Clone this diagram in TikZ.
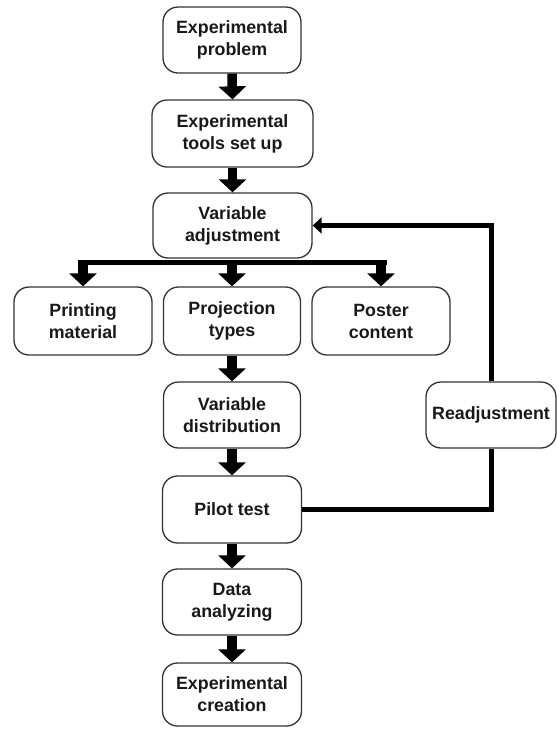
\documentclass[tikz,border=0pt]{standalone}
\usepackage{fontspec}
\setmainfont{Liberation Sans}
\usetikzlibrary{arrows.meta}
\begin{document}
\begin{tikzpicture}[x=1pt,y=-1pt,
  box/.style={draw=black!80, line width=1.3pt, rounded corners=15pt, fill=white,
    align=center, inner sep=0pt, text=black!90,
    font=\bfseries\fontsize{17.8}{22}\selectfont},
  bigarrow/.style={line width=9.5pt, draw=black, -{Triangle[width=27pt,length=13pt]}},
  fbline/.style={line width=5pt, draw=black, line join=miter},
  fbarrow/.style={fbline, -{Triangle[width=16pt,length=9pt]}}]
\useasboundingbox (0,0) rectangle (557,729);
\node[box, minimum width=138pt, minimum height=66pt] (b1) at (232,40) {Experimental\\problem};
\node[box, minimum width=161pt, minimum height=67pt] (b2) at (232.5,133.5) {Experimental\\tools set up};
\node[box, minimum width=159pt, minimum height=65pt] (b3) at (232.5,225.5) {Variable\\adjustment};
\node[box, minimum width=138pt, minimum height=68pt] (p1) at (83,321) {Printing\\material};
\node[box, minimum width=137pt, minimum height=68pt] (p2) at (232,321) {Projection\\types};
\node[box, minimum width=138pt, minimum height=68pt] (p3) at (381,321) {Poster\\content};
\node[box, minimum width=137pt, minimum height=66pt] (vd) at (232,415) {Variable\\distribution};
\node[box, minimum width=130pt, minimum height=66pt] (rd) at (491,415) {Readjustment};
\node[box, minimum width=139pt, minimum height=67pt] (pt) at (232,509.5) {Pilot test};
\node[box, minimum width=139pt, minimum height=66pt] (da) at (232,602) {Data\\analyzing};
\node[box, minimum width=139pt, minimum height=63pt] (ec) at (232,694.5) {Experimental\\creation};
% main arrows
\draw[bigarrow] (b1.south) -- (b2.north);
\draw[bigarrow] (b2.south) -- (b3.north);
\draw[bigarrow] (p2.south) -- (vd.north);
\draw[bigarrow] (vd.south) -- (pt.north);
\draw[bigarrow] (pt.south) -- (da.north);
\draw[bigarrow] (da.south) -- (ec.north);
% split bar
\coordinate (barL) at (78,262.5);
\coordinate (barR) at (387,262.5);
\draw[line width=5.5pt] (barL) -- (barR);
\draw[bigarrow] (p1.north |- barL) -- (p1.north);
\draw[bigarrow] (p2.north |- barL) -- (p2.north);
\draw[bigarrow] (p3.north |- barL) -- (p3.north);
% feedback loop
\draw[fbline] (pt.east) -| (rd.south);
\draw[fbarrow] (rd.north) |- (b3.east);
\end{tikzpicture}
\end{document}
